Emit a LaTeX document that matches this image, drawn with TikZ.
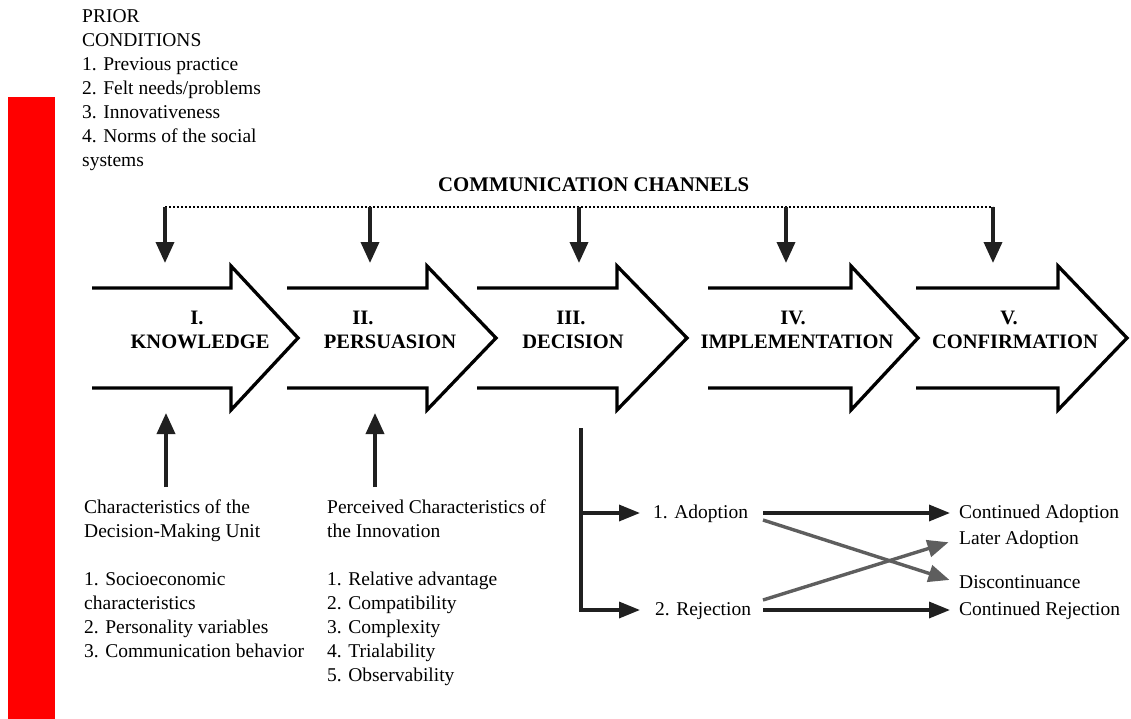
\documentclass[tikz,border=0pt]{standalone}
\usepackage{fontspec}
\setmainfont{Liberation Serif}
\newfontfamily\serf{Liberation Serif}
\usetikzlibrary{arrows.meta}
\definecolor{arrgray}{HTML}{5E5E5E}
\definecolor{arrblack}{HTML}{202020}
\begin{document}
\begin{tikzpicture}[x=1pt,y=-1pt,
  txt/.style={inner sep=0pt, font=\serf\fontsize{19.5}{24}\selectfont, anchor=base west},
  outtxt/.style={inner sep=0pt, font=\serf\fontsize{19.5}{24}\selectfont, anchor=west, text height=14pt, text depth=4pt},
  lbl/.style={inner sep=0pt, font=\serf\fontsize{20.5}{24}\selectfont\bfseries, anchor=base},
  bigarrow/.style={line width=3.3pt, line join=miter, draw=black},
  chan/.style={line width=3.6pt, draw=arrblack, -{Triangle[length=21pt,width=18pt]}},
  brarrow/.style={line width=3.4pt, draw=arrblack, -{Triangle[length=21pt,width=16pt]}},
  grarrow/.style={line width=3.4pt, draw=arrgray, -{Triangle[length=21pt,width=17pt]}},
  trunk/.style={line width=3.4pt, draw=arrblack}]
\useasboundingbox (0,0) rectangle (1131,719);
\fill[white] (0,0) rectangle (1131,719);
% red bar
\fill[red] (8,97) rectangle (55,719);

% prior conditions
\foreach \t [count=\i from 0] in {PRIOR, CONDITIONS, 1. Previous practice, 2. Felt needs/problems, 3. Innovativeness, 4. Norms of the social, systems}
  \node[txt] (prior-\i) at (82,{23+24*\i}) {\t};

% communication channels
\node[lbl, anchor=base west, font=\serf\fontsize{20.8}{24}\selectfont\bfseries] (comm) at (438,192) {COMMUNICATION CHANNELS};

% big stage arrows
\foreach \xl/\xh/\xt in {92/231/298, 287/427/496, 477/617/687, 708/851/918, 916/1058/1127}
  \draw[bigarrow] (\xl,288) -- (\xh,288) -- (\xh,266) -- (\xt,338) -- (\xh,410) -- (\xh,388) -- (\xl,388);

% stage labels
\node[lbl] (num1) at (197,324) {I.};
\node[lbl] (stage1) at (200,348) {KNOWLEDGE};
\node[lbl] (num2) at (363,324) {II.};
\node[lbl] (stage2) at (390,348) {PERSUASION};
\node[lbl] (num3) at (571,324) {III.};
\node[lbl] (stage3) at (573,348) {DECISION};
\node[lbl] (num4) at (793,324) {IV.};
\node[lbl] (stage4) at (797,348) {IMPLEMENTATION};
\node[lbl] (num5) at (1009,324) {V.};
\node[lbl] (stage5) at (1015,348) {CONFIRMATION};

% channel line and down arrows
\foreach \x [count=\i] in {165,370,579,786,993} {
  \coordinate (ch-\i) at (\x,207);
  \coordinate (chtip-\i) at (\x,263);
}
\draw[line width=1.2pt, dash pattern=on 2.4pt off 1.6pt] (ch-1) -- (ch-5);
\foreach \i in {1,...,5}
  \draw[chan] (ch-\i) -- (chtip-\i);

% up arrows
\coordinate (up1s) at (166,487); \coordinate (up1e) at (166,413);
\coordinate (up2s) at (375,487); \coordinate (up2e) at (375,413);
\draw[chan] (up1s) -- (up1e);
\draw[chan] (up2s) -- (up2e);

% decision-making unit characteristics
\foreach \y/\t [count=\i] in {513/Characteristics of the, 537/Decision-Making Unit, 585/1. Socioeconomic, 609/characteristics, 633/2. Personality variables, 657/3. Communication behavior}
  \node[txt] (dmu-\i) at (84,\y) {\t};

% perceived characteristics
\foreach \y/\t [count=\i] in {513/Perceived Characteristics of, 537/the Innovation, 585/1. Relative advantage, 609/2. Compatibility, 633/3. Complexity, 657/4. Trialability, 681/5. Observability}
  \node[txt] (pci-\i) at (327,\y) {\t};

% decision outcomes
\node[outtxt] (adopt) at (653,513) {1. Adoption};
\node[outtxt] (reject) at (655,610) {2. Rejection};
\node[outtxt] (contad) at (959,513) {Continued Adoption};
\node[outtxt] (later) at (959,539) {Later Adoption};
\node[outtxt] (disc) at (959,583) {Discontinuance};
\node[outtxt] (contrej) at (959,610) {Continued Rejection};

\coordinate (dtop) at (581,428);
\coordinate (dbot) at (581,611.7);
\coordinate (dad) at (581,513);
\coordinate (drj) at (581,610);
\draw[trunk] (dtop) -- (dbot);
\draw[brarrow, shorten >=13pt] (dad) -- (adopt.west);
\draw[brarrow, shorten >=15pt] (drj) -- (reject.west);

\coordinate (ad-out) at (763,513);
\coordinate (rj-out) at (763,610);
\coordinate (ad-gr) at (763,520);
\coordinate (rj-gr) at (763,600);
\draw[brarrow, shorten >=9pt] (ad-out) -- (contad.west);
\draw[brarrow, shorten >=9pt] (rj-out) -- (contrej.west);
\draw[grarrow, shorten >=10pt] (ad-gr) -- (disc.west);
\draw[grarrow, shorten >=11pt] (rj-gr) -- (later.west);
\end{tikzpicture}
\end{document}
